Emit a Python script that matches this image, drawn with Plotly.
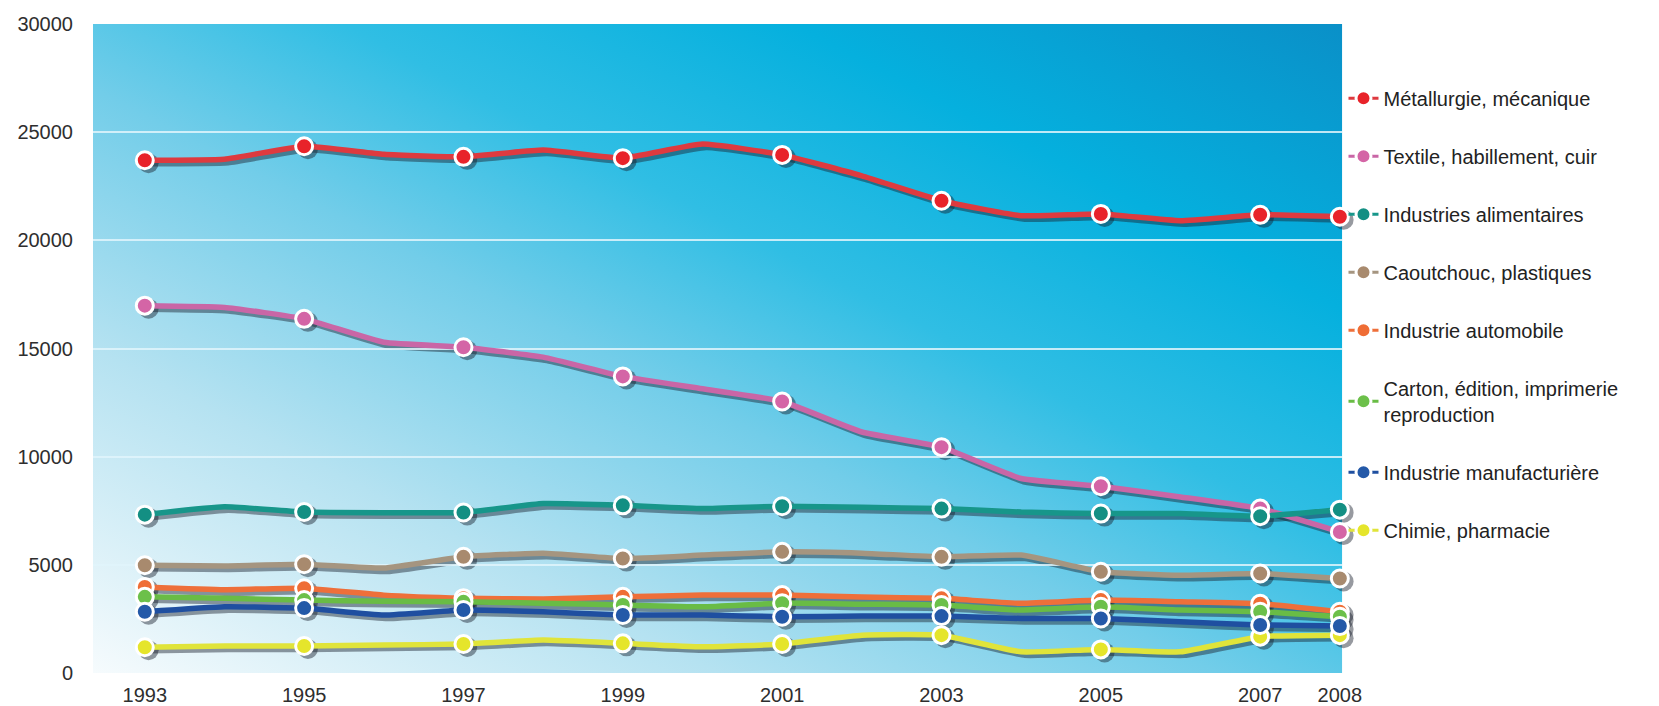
"""Industrial employment by sector, 1993-2008 (Plotly)."""

import base64

import plotly.graph_objects as go

YEARS = [1993, 1994, 1995, 1996, 1997, 1998, 1999, 2000,
         2001, 2002, 2003, 2004, 2005, 2006, 2007, 2008]
MARKER_YEARS = [1993, 1995, 1997, 1999, 2001, 2003, 2005, 2007, 2008]
X_TICKS = [1993, 1995, 1997, 1999, 2001, 2003, 2005, 2007, 2008]
Y_TICKS = [0, 5000, 10000, 15000, 20000, 25000, 30000]

METALLURGIE = [23700, 23750, 24350, 23980, 23860, 24170, 23800, 24450,
               23950, 22980, 21830, 21140, 21220, 20910, 21180, 21090]
TEXTILE = [16980, 16900, 16370, 15290, 15060, 14600, 13710, 13140,
           12550, 11140, 10440, 8990, 8630, 8140, 7600, 6520]
ALIMENTAIRES = [7320, 7680, 7440, 7410, 7420, 7830, 7750, 7600,
                7710, 7660, 7600, 7440, 7370, 7370, 7250, 7550]
CAOUTCHOUC = [4980, 4950, 5030, 4850, 5370, 5540, 5290, 5450,
              5600, 5540, 5370, 5450, 4680, 4520, 4600, 4370]
AUTOMOBILE = [3980, 3850, 3920, 3600, 3460, 3420, 3520, 3600,
              3600, 3510, 3450, 3220, 3370, 3290, 3200, 2830]
CARTON = [3520, 3460, 3370, 3320, 3290, 3230, 3140, 3060,
          3230, 3180, 3140, 2910, 3060, 2910, 2830, 2600]
MANUFACTURIERE = [2830, 3060, 3000, 2680, 2910, 2830, 2680, 2680,
                  2600, 2630, 2630, 2520, 2520, 2370, 2220, 2170]
CHIMIE = [1190, 1250, 1250, 1290, 1340, 1520, 1370, 1210,
          1340, 1750, 1750, 980, 1090, 980, 1680, 1750]

# (label, values, line colour, marker colour) in legend order
SERIES = [
    ("Métallurgie, mécanique", METALLURGIE, "#DE3A3F", "#E8232A"),
    ("Textile, habillement, cuir", TEXTILE, "#C966A6", "#D465A6"),
    ("Industries alimentaires", ALIMENTAIRES, "#17968A", "#138F83"),
    ("Caoutchouc, plastiques", CAOUTCHOUC, "#A59580", "#A88A6E"),
    ("Industrie automobile", AUTOMOBILE, "#EE6F3A", "#EF6D35"),
    ("Carton, édition, imprimerie<br>reproduction", CARTON, "#69BC45", "#6CC04A"),
    ("Industrie manufacturière", MANUFACTURIERE, "#1F4FA0", "#2459A8"),
    ("Chimie, pharmacie", CHIMIE, "#E0E43A", "#E5E52B"),
]
# yellow sits underneath the others
DRAW_ORDER = [7, 0, 1, 2, 3, 4, 5, 6]

TEXT_COLOR = "#2E2E2E"
FONT = "Liberation Sans, Arial, sans-serif"
SHADOW = "rgba(25, 30, 45, 0.45)"
DX = 0.003
DY = 0.0046


def _gradient_uri() -> str:
    svg = (
        "<svg xmlns='http://www.w3.org/2000/svg' width='1250' height='650' "
        "preserveAspectRatio='none' viewBox='0 0 1250 650'>"
        "<defs><linearGradient id='g' x1='0' y1='1' x2='1' y2='0'>"
        "<stop offset='0' stop-color='#F6FBFD'/>"
        "<stop offset='0.25' stop-color='#B5E2F1'/>"
        "<stop offset='0.45' stop-color='#72CDE9'/>"
        "<stop offset='0.6' stop-color='#30BEE4'/>"
        "<stop offset='0.78' stop-color='#05B0DE'/>"
        "<stop offset='1' stop-color='#0A90C8'/>"
        "</linearGradient></defs>"
        "<rect width='1250' height='650' fill='url(#g)'/></svg>"
    )
    return "data:image/svg+xml;base64," + base64.b64encode(svg.encode()).decode()


fig = go.Figure()

marker_idx = [YEARS.index(y) for y in MARKER_YEARS]

# Drop shadows on the hidden first axes, offset slightly down-right
for i in DRAW_ORDER:
    name, vals, lcol, mcol = SERIES[i]
    fig.add_trace(go.Scatter(
        x=YEARS, y=vals, mode="lines", xaxis="x", yaxis="y",
        line={"color": SHADOW, "width": 6.5, "shape": "spline", "smoothing": 0.4},
        showlegend=False, hoverinfo="skip",
    ))
for i in DRAW_ORDER:
    name, vals, lcol, mcol = SERIES[i]
    fig.add_trace(go.Scatter(
        x=[YEARS[k] for k in marker_idx], y=[vals[k] for k in marker_idx],
        mode="markers", xaxis="x", yaxis="y", cliponaxis=False,
        marker={"size": 20, "color": SHADOW},
        showlegend=False, hoverinfo="skip",
    ))

# Lines
for i in DRAW_ORDER:
    name, vals, lcol, mcol = SERIES[i]
    fig.add_trace(go.Scatter(
        x=YEARS, y=vals, mode="lines", xaxis="x2", yaxis="y2",
        line={"color": lcol, "width": 5.5, "shape": "spline", "smoothing": 0.4},
        legendgroup=name, showlegend=False,
        hovertemplate=f"{name}<br>%{{x}}: %{{y}}<extra></extra>",
    ))

# Markers on the odd years + 2008
for i in DRAW_ORDER:
    name, vals, lcol, mcol = SERIES[i]
    fig.add_trace(go.Scatter(
        x=[YEARS[k] for k in marker_idx], y=[vals[k] for k in marker_idx],
        mode="markers", xaxis="x2", yaxis="y2", cliponaxis=False,
        marker={"size": 17, "color": mcol, "line": {"color": "#FFFFFF", "width": 3}},
        legendgroup=name, showlegend=False, hoverinfo="skip",
    ))

# Legend entries only
for name, vals, lcol, mcol in SERIES:
    fig.add_trace(go.Scatter(
        x=[None], y=[None], mode="lines+markers", xaxis="x2", yaxis="y2",
        name=name, legendgroup=name,
        line={"color": lcol, "width": 3},
        marker={"size": 15, "color": mcol, "line": {"color": "#FFFFFF", "width": 3}},
    ))

x_range = [1992.35, 2008.03]

# the page body adds an 8 px offset, so margins are shifted to compensate
fig.update_layout(
    width=1659,
    height=706,
    margin={"l": 85, "r": 321, "t": 16, "b": 38, "autoexpand": False},
    paper_bgcolor="#FFFFFF",
    plot_bgcolor="rgba(0,0,0,0)",
    font={"family": FONT, "size": 20, "color": TEXT_COLOR},
    xaxis={"visible": False, "range": x_range, "domain": [DX, 1],
           "fixedrange": True, "automargin": False},
    yaxis={"visible": False, "range": [0, 30000], "domain": [0, 1 - DY],
           "fixedrange": True, "automargin": False},
    xaxis2={
        "domain": [0, 1 - DX], "anchor": "y2", "range": x_range,
        "automargin": False,
        "tickvals": X_TICKS, "ticktext": [str(v) for v in X_TICKS],
        "showgrid": False, "zeroline": False, "showline": False,
        "ticks": "outside", "ticklen": 4, "tickcolor": "rgba(0,0,0,0)",
        "tickfont": {"size": 20, "color": TEXT_COLOR},
    },
    yaxis2={
        "domain": [DY, 1], "anchor": "x2", "range": [0, 30000],
        "automargin": False,
        "tickvals": Y_TICKS, "ticktext": [str(v) for v in Y_TICKS],
        "showgrid": True, "gridcolor": "rgba(225, 245, 252, 0.85)", "gridwidth": 2,
        "zeroline": False, "showline": False,
        "ticks": "outside", "ticklen": 15, "tickcolor": "rgba(0,0,0,0)",
        "tickfont": {"size": 20, "color": TEXT_COLOR},
    },
    images=[{
        "source": _gradient_uri(),
        "xref": "paper", "yref": "paper",
        "x": 0, "y": 1, "sizex": 1 - DX, "sizey": 1 - DY,
        "xanchor": "left", "yanchor": "top",
        "sizing": "stretch", "layer": "below",
    }],
    legend={
        "x": 0.998, "xanchor": "left",
        "y": 0.916, "yanchor": "top",
        "bgcolor": "rgba(0,0,0,0)",
        "font": {"size": 20, "color": "#222222"},
        "tracegroupgap": 29,
        "itemwidth": 30,
    },
    showlegend=True,
    hovermode="closest",
)

fig.write_html("out.html")
